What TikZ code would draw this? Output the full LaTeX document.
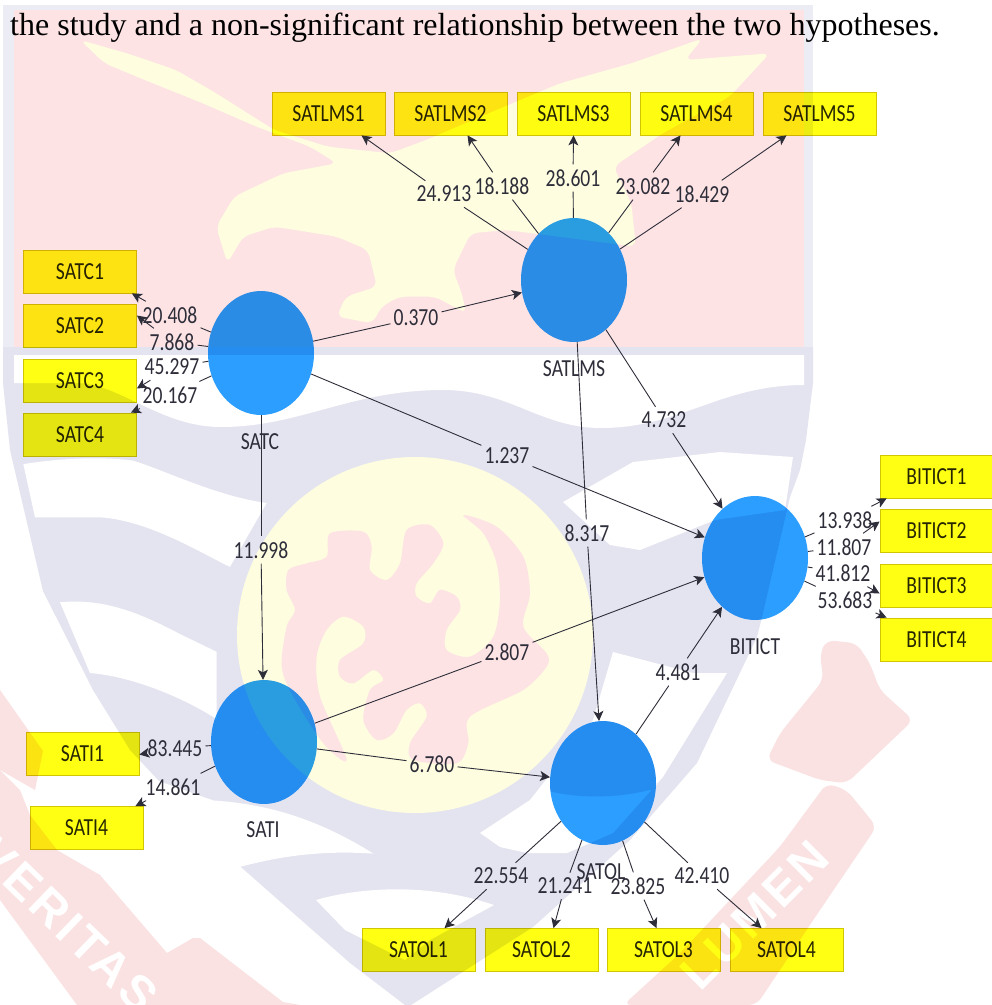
\documentclass[tikz,border=0pt]{standalone}
\usepackage{fontspec}
\setmainfont[FakeStretch=0.8]{Carlito}
\newfontfamily\serifnote{Liberation Serif}
\newfontfamily\mottofont[LetterSpace=8]{Liberation Sans}
\usetikzlibrary{arrows.meta,shapes.geometric}
\definecolor{lav}{HTML}{E4E4F0}
\definecolor{lavlight}{HTML}{ECECF5}
\definecolor{panel}{HTML}{FDE3E4}
\definecolor{sun}{HTML}{FEFDE0}
\definecolor{rib}{HTML}{FBE2E2}
\definecolor{boxy}{HTML}{FFFF14}
\definecolor{boxline}{HTML}{D2C600}
\definecolor{ball}{HTML}{2B9EFF}
\definecolor{ink}{HTML}{2E2E3A}
\tikzset{
  manifest/.style={rectangle,draw=boxline,fill=boxy,line width=.8pt,minimum width=113pt,minimum height=43pt,inner sep=0pt,font=\fontsize{24.5}{25}\selectfont,text=black!85},
  latent/.style={ellipse,fill=ball,minimum width=106pt,minimum height=124pt,inner sep=0pt},
  weight/.style={inner xsep=3pt,inner ysep=5pt,font=\fontsize{24.5}{25}\selectfont,text=ink},
  nametag/.style={font=\fontsize{24.5}{25}\selectfont,text=ink,inner sep=0pt},
  link/.style={draw=ink,line width=.9pt},
  arrowlink/.style={link,-{Stealth[length=10pt,width=10pt,inset=2.5pt]}},
  motto/.style={text=white,inner sep=0pt,font=\mottofont\bfseries\fontsize{48}{48}\selectfont},
}
\begin{document}
\begin{tikzpicture}[x=1pt,y=-1pt]
\useasboundingbox (0,0) rectangle (992,1005);
\fill[white] (0,0) rectangle (992,1005);
% ---- watermark: shield
\fill[lavlight] (3,5) rectangle (813,383);
\fill[panel] (14,10) rectangle (804,347);
\begin{scope}[shift={(60,30)},x=.4464pt,y=-.3333pt]
\fill[sun,rounded corners=7pt] (45,30) -- (150,70) -- (260,120) -- (350,190) -- (480,300) -- (600,350) -- (740,370) -- (820,330) -- (960,250) -- (1120,160) -- (1280,100) -- (1440,25) -- (1400,90) -- (1590,70) -- (1500,200) -- (1350,310) -- (1240,410) -- (1280,520) -- (1290,650) -- (1000,600) -- (920,610) -- (880,720) -- (900,790) -- (910,850) -- (840,800) -- (760,800) -- (720,830) -- (700,880) -- (620,860) -- (640,800) -- (710,770) -- (690,660) -- (620,620) -- (480,590) -- (410,620) -- (375,700) -- (350,590) -- (390,500) -- (500,430) -- (620,400) -- (560,350) -- (440,290) -- (320,220) -- (190,150) -- (100,100) -- cycle;
\end{scope}
\fill[lav] (3,347) -- (813,347) -- (813,383) -- (806,440) -- (800,470) -- (790,497) -- (762,617) -- (757,637) -- (697,763) -- (630,840) -- (533,927) -- (411,1005) -- (405,1005) -- (350,963) -- (233,860) -- (130,750) -- (93,690) -- (43,591) -- (10,450) -- (3,383) -- cycle;
\fill[white] (14,355) -- (804,355) -- (804,385) .. controls (720,385) and (680,428) .. (601,428) .. controls (540,428) and (510,390) .. (443,390) .. controls (350,390) and (300,427) .. (221,427) .. controls (160,427) and (120,383) .. (76,383) -- (14,383) -- cycle;
\begin{scope}[shift={(0,450)},x=.3333pt,y=-.354pt]
\fill[white] (70,40) .. controls (200,20) and (320,20) .. (400,30) .. controls (500,60) and (650,130) .. (800,150) -- (690,330) .. controls (600,290) and (450,200) .. (300,190) -- (105,190) -- cycle;
\fill[white] (180,430) .. controls (300,420) and (400,450) .. (540,520) -- (650,570) -- (650,760) .. controls (550,700) and (400,640) .. (270,630) -- cycle;
\fill[white] (460,930) -- (640,990) .. controls (800,1000) and (950,1040) .. (1120,1140) .. controls (950,1130) and (830,1150) .. (710,1180) -- cycle;
\end{scope}
\fill[white] (563,502) -- (633,462) -- (720,452) -- (793,457) -- (785,510) -- (715,520) -- (640,550) -- (610,545) -- cycle;
\fill[white] (613,652) -- (693,673) -- (727,673) -- (663,777) -- (613,833) -- (567,853) -- (527,853) -- (500,847) -- (480,833) -- (530,800) -- (593,720) -- cycle;
\fill[white] (316,900) .. controls (350,890) and (420,880) .. (494,905) -- (430,940) -- (405,960) -- (345,930) -- cycle;
\fill[lav] (415,635) circle [radius=188pt];
\fill[sun] (415,635) circle [radius=178pt];
\begin{scope}[shift={(230,450)},x=.3333pt,y=-.3333pt]
\fill[panel] plot[smooth cycle,tension=.5] coordinates {(700,195) (800,230) (880,320) (900,430) (880,530) (950,610) (950,650) (880,720) (720,800) (715,880) (680,940) (550,930) (540,880) (590,800) (570,760) (530,780) (490,850) (440,870) (400,810) (420,720) (460,690) (430,660) (370,700) (330,680) (330,630) (400,580) (400,530) (340,500) (290,540) (260,620) (270,740) (350,930) (280,880) (190,740) (155,650) (170,530) (195,480) (170,420) (175,360) (230,340) (290,320) (300,250) (400,245) (425,290) (420,360) (470,390) (510,340) (530,240) (600,225) (640,280) (610,340) (560,400) (560,440) (600,460) (630,420) (680,440) (690,480) (650,540) (650,600) (720,620) (790,560) (810,450) (800,340) (760,250)};
\end{scope}
% shade that lies behind the upper part of the SATOL circle
\begin{scope}
\clip (603,783) circle [x radius=53pt,y radius=62pt];
\fill[lav] (545,715) rectangle (662,790);
\fill[lav] (545,790) .. controls (580,800) and (630,798) .. (662,786) -- (662,780) -- (545,780) -- cycle;
\end{scope}
% ---- watermark: ribbons
\fill[rib] (0,690) -- (43,751) -- (35,790) -- (0,770) -- cycle;
\fill[rib] (0,770) -- (20,790) -- (30,815) -- (57,850) -- (100,875) -- (167,953) -- (193,938) -- (200,938) -- (283,1002) -- (300,1005) -- (77,1005) -- (0,900) -- cycle;
\begin{scope}[shift={(480,620)},x=.3333pt,y=-.3333pt]
\fill[rib,rounded corners=8pt] (1040,60) -- (1130,70) -- (1170,130) -- (1200,210) -- (1300,300) -- (1100,490) -- (1020,480) -- (860,420) -- (900,340) -- (1030,180) -- (1020,100) -- cycle;
\fill[rib,rounded corners=8pt] (1040,490) -- (1100,510) -- (1190,620) -- (1000,900) -- (830,1155) -- (430,1155) -- (600,1000) -- (900,680) -- cycle;
\end{scope}
\node[motto,rotate=-44] (wmA) at (68,925) {VERITAS};
\node[motto,rotate=45] (wmB) at (755,915) {LUMEN};
% ---- heading line
\node[anchor=base west,inner sep=0pt,font=\serifnote\fontsize{32}{33}\selectfont,text=black] (headline) at (10,35) {the study and a non-significant relationship between the two hypotheses.};
% ---- blocks
\begin{scope}[blend mode=multiply]
\node[manifest] (SATLMS1) at (328.5,113.5) {SATLMS1};
\node[manifest] (SATLMS2) at (450.5,113.5) {SATLMS2};
\node[manifest] (SATLMS3) at (573.5,113.5) {SATLMS3};
\node[manifest] (SATLMS4) at (696.5,113.5) {SATLMS4};
\node[manifest] (SATLMS5) at (819.5,113.5) {SATLMS5};
\node[manifest] (SATC1) at (80,271.5) {SATC1};
\node[manifest] (SATC2) at (80,325.5) {SATC2};
\node[manifest] (SATC3) at (80,380.5) {SATC3};
\node[manifest] (SATC4) at (80,434.5) {SATC4};
\node[manifest] (BITICT1) at (936.5,476.5) {BITICT1};
\node[manifest] (BITICT2) at (936.5,530.5) {BITICT2};
\node[manifest] (BITICT3) at (936.5,585.5) {BITICT3};
\node[manifest] (BITICT4) at (936.5,639.5) {BITICT4};
\node[manifest] (SATI1) at (82.5,753.5) {SATI1};
\node[manifest] (SATI4) at (86.5,828) {SATI4};
\node[manifest] (SATOL1) at (418.5,950) {SATOL1};
\node[manifest] (SATOL2) at (541.5,950) {SATOL2};
\node[manifest] (SATOL3) at (663.5,950) {SATOL3};
\node[manifest] (SATOL4) at (786.5,950) {SATOL4};
\node[latent] (SATC) at (261,353) {};
\node[latent] (SATLMS) at (574,280) {};
\node[latent] (BITICT) at (755,558) {};
\node[latent] (SATI) at (264,742) {};
\node[latent] (SATOL) at (603,783) {};
\end{scope}
\node[nametag] (tSATC) at (260,442) {SATC};
\node[nametag] (tSATLMS) at (574,369) {SATLMS};
\node[nametag] (tBITICT) at (755,647) {BITICT};
\node[nametag] (tSATI) at (263,830) {SATI};
\node[nametag] (tSATOL) at (601,872) {SATOL};
% ---- weights
\node[weight] (a1) at (444,194) {24.913};
\node[weight] (a2) at (502,186) {18.188};
\node[weight] (a3) at (573,178) {28.601};
\node[weight] (a4) at (643,186) {23.082};
\node[weight] (a5) at (702,194) {18.429};
\node[weight] (c1) at (170,315) {20.408};
\node[weight] (c2) at (172,342) {7.868};
\node[weight] (c3) at (172,367) {45.297};
\node[weight] (c4) at (170,395) {20.167};
\node[weight] (b1) at (845,520) {13.938};
\node[weight] (b2) at (844,547) {11.807};
\node[weight] (b3) at (843,573) {41.812};
\node[weight] (b4) at (845,600) {53.683};
\node[weight] (i1) at (175,748) {83.445};
\node[weight] (i4) at (173,787) {14.861};
\node[weight] (o1) at (501,876) {22.554};
\node[weight] (o2) at (565,886) {21.241};
\node[weight] (o3) at (638,886) {23.825};
\node[weight] (o4) at (702,876) {42.410};
\node[weight] (w1) at (416,318) {0.370};
\node[weight] (w2) at (507,456) {1.237};
\node[weight] (w3) at (261,550) {11.998};
\node[weight] (w4) at (664,420) {4.732};
\node[weight] (w5) at (587,533) {8.317};
\node[weight] (w6) at (507,652) {2.807};
\node[weight] (w7) at (432,764) {6.780};
\node[weight] (w8) at (678,672) {4.481};
% ---- connectors
\draw[link] (SATLMS) -- (a1); \draw[arrowlink] (a1) -- ([xshift=33pt]SATLMS1.south);
\draw[link] (SATLMS) -- (a2); \draw[arrowlink] (a2) -- ([xshift=17pt]SATLMS2.south);
\draw[link] (SATLMS) -- (a3); \draw[arrowlink] (a3) -- (SATLMS3.south);
\draw[link] (SATLMS) -- (a4); \draw[arrowlink] (a4) -- ([xshift=-16pt]SATLMS4.south);
\draw[link] (SATLMS) -- (a5); \draw[arrowlink] (a5) -- ([xshift=-33pt]SATLMS5.south);
\draw[link] (SATC) -- (c1); \draw[arrowlink] (c1) -- ([xshift=-5pt]SATC1.south east);
\draw[link] (SATC) -- (c2); \draw[arrowlink] (c2) -- ([yshift=10pt]SATC2.east);
\draw[link] (SATC) -- (c3); \draw[arrowlink] (c3) -- ([yshift=-8pt]SATC3.east);
\draw[link] (SATC) -- (c4); \draw[arrowlink] (c4) -- ([xshift=-6pt]SATC4.north east);
\draw[link] (BITICT) -- (b1); \draw[arrowlink] (b1) -- ([xshift=7pt]BITICT1.south west);
\draw[link] (BITICT) -- (b2); \draw[arrowlink] (b2) -- ([yshift=9pt]BITICT2.west);
\draw[link] (BITICT) -- (b3); \draw[arrowlink] (b3) -- ([yshift=-8pt]BITICT3.west);
\draw[link] (BITICT) -- (b4); \draw[arrowlink] (b4) -- ([xshift=7pt]BITICT4.north west);
\draw[link] (SATI) -- (i1); \draw[arrowlink] (i1) -- ([yshift=-1pt]SATI1.east);
\draw[link] (SATI) -- (i4); \draw[arrowlink] (i4) -- ([xshift=-8pt]SATI4.north east);
\draw[link] (SATOL) -- (o1); \draw[arrowlink] (o1) -- ([xshift=26pt]SATOL1.north);
\draw[link] (SATOL) -- (o2); \draw[arrowlink] (o2) -- ([xshift=12pt]SATOL2.north);
\draw[link] (SATOL) -- (o3); \draw[arrowlink] (o3) -- ([xshift=-7pt]SATOL3.north);
\draw[link] (SATOL) -- (o4); \draw[arrowlink] (o4) -- ([xshift=-25pt]SATOL4.north);
\draw[link] (SATC) -- (w1); \draw[arrowlink] (w1) -- (SATLMS);
\draw[link] (SATC) -- (w2); \draw[arrowlink] (w2) -- (BITICT);
\draw[link] (SATC) -- (w3); \draw[arrowlink] (w3) -- (SATI);
\draw[link] (SATLMS) -- (w4); \draw[arrowlink] (w4) -- (BITICT);
\draw[link] (SATLMS) -- (w5); \draw[arrowlink] (w5) -- (SATOL);
\draw[link] (SATI) -- (w6); \draw[arrowlink] (w6) -- (BITICT);
\draw[link] (SATI) -- (w7); \draw[arrowlink] (w7) -- (SATOL);
\draw[link] (SATOL) -- (w8); \draw[arrowlink] (w8) -- (BITICT);
\end{tikzpicture}
\end{document}
